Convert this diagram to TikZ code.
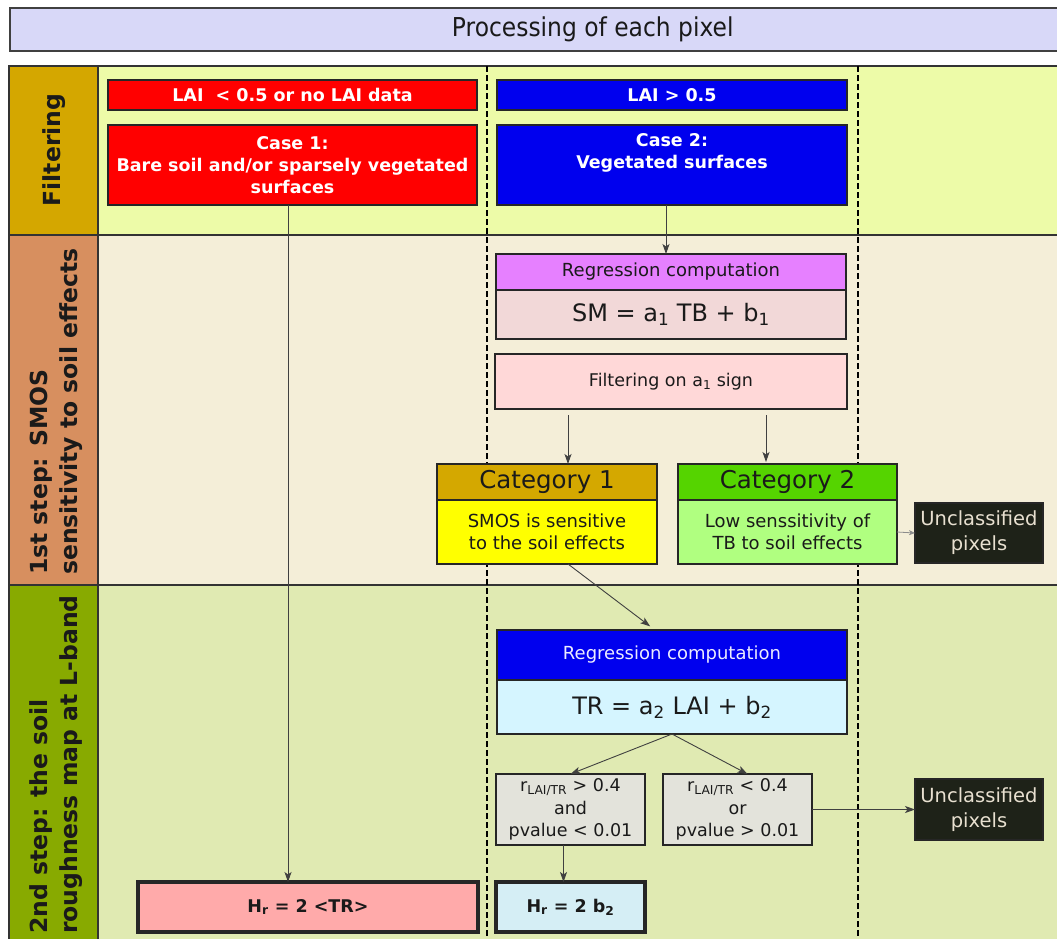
\documentclass[tikz,border=0pt]{standalone}
\usepackage{fontspec}
\setmainfont{DejaVu Sans}
\newfontfamily\condfont{DejaVu Sans}[FakeStretch=0.9]
\usetikzlibrary{arrows.meta}
\definecolor{hdrbg}{HTML}{D8D8F8}
\definecolor{rowAbg}{HTML}{EDFBA8}
\definecolor{rowAlab}{HTML}{D4A700}
\definecolor{rowBbg}{HTML}{F4EED8}
\definecolor{rowBlab}{HTML}{D78F5F}
\definecolor{rowCbg}{HTML}{E0EAB2}
\definecolor{rowClab}{HTML}{88AA00}
\definecolor{cred}{HTML}{FF0000}
\definecolor{cblue}{HTML}{0000EE}
\definecolor{violet}{HTML}{E680FF}
\definecolor{smbody}{HTML}{F2D8D8}
\definecolor{filtbg}{HTML}{FFD8D8}
\definecolor{catAh}{HTML}{D4A800}
\definecolor{catAb}{HTML}{FFFF00}
\definecolor{catBh}{HTML}{55D400}
\definecolor{catBb}{HTML}{B0FF80}
\definecolor{uncbg}{HTML}{1E2218}
\definecolor{unctx}{HTML}{E8E0D0}
\definecolor{trbody}{HTML}{D5F5FF}
\definecolor{greybox}{HTML}{E3E3DB}
\definecolor{hrA}{HTML}{FFAAAA}
\definecolor{hrB}{HTML}{D5EEF5}
\definecolor{ink}{HTML}{1A1A1A}
\tikzset{
  lane/.style={draw=black!80, line width=1.3pt},
  vdash/.style={draw=black, line width=1.3pt, dash pattern=on 6pt off 3pt},
  box/.style={draw=black!85, line width=1.8pt, anchor=north west, inner sep=0pt,
              outer sep=0pt, align=center, text=ink,
              font=\fontsize{18}{22}\selectfont},
  whitebold/.style={text=white, font=\bfseries\fontsize{17.5}{22}\selectfont},
  bigtxt/.style={font=\fontsize{24}{28}\selectfont},
  thickbox/.style={line width=4pt, font=\bfseries\fontsize{17.5}{22}\selectfont},
  unc/.style={fill=uncbg, text=unctx, font=\fontsize{19.5}{25}\selectfont},
  lab/.style={text=ink, font=\bfseries\fontsize{23.5}{30}\selectfont, inner sep=0pt},
  arr/.style={-{Stealth[length=10pt,width=7pt,inset=2.5pt]}, draw=black!75, line width=0.9pt},
  arrsmall/.style={-{Stealth[length=6pt,width=5pt,inset=1.5pt]}, draw=black!45, line width=0.8pt},
}
\begin{document}
\begin{tikzpicture}[x=1pt,y=-1pt]
\useasboundingbox (0,0) rectangle (1057,938);
\clip (0,0) rectangle (1057,938);
\fill[white] (0,0) rectangle (1057,938);

% header
\node[draw=black!75, line width=1.5pt, fill=hdrbg, anchor=north west, inner sep=0pt,
      minimum width=1166pt, minimum height=43pt, text=ink,
      font=\condfont\fontsize{26}{30}\selectfont] (head) at (9,7) {Processing of each pixel};

% lanes
\filldraw[lane, fill=rowAbg] (9,66) rectangle (1075,235);
\filldraw[lane, fill=rowAlab] (9,66) rectangle (98,235);
\filldraw[lane, fill=rowBbg] (9,235) rectangle (1075,585);
\filldraw[lane, fill=rowBlab] (9,235) rectangle (98,585);
\filldraw[lane, fill=rowCbg] (9,585) rectangle (1075,950);
\filldraw[lane, fill=rowClab] (9,585) rectangle (98,950);

\node[lab, rotate=90] (labF) at (54,150) {Filtering};
\node[lab, rotate=90, anchor=west, align=left] (labS) at (56,575) {1st step: SMOS\\sensitivity to soil effects};
\node[lab, rotate=90, anchor=west, align=left] (labR) at (56,934) {2nd step: the soil\\roughness map at L-band};

% dashed separators
\draw[vdash] (487,66) -- (487,938);
\draw[vdash] (858,66) -- (858,938);

% filtering row
\node[box, whitebold, fill=cred, minimum width=369pt, minimum height=30pt] (lai1) at (108,80) {LAI~ < 0.5 or no LAI data};
\node[box, whitebold, fill=cblue, minimum width=350pt, minimum height=30pt] (lai2) at (497,80) {LAI > 0.5};
\node[box, whitebold, fill=cred, minimum width=369pt, minimum height=80pt] (case1) at (108,125) {Case 1:\\Bare soil and/or sparsely vegetated\\surfaces};
\node[box, whitebold, fill=cblue, minimum width=350pt, minimum height=80pt] (case2) at (497,125) {Case 2:\\Vegetated surfaces\\\strut};

% first step
\node[box, fill=violet, minimum width=350pt, minimum height=36pt] (regh) at (496,254) {Regression computation};
\node[box, bigtxt, fill=smbody, minimum width=350pt, minimum height=49pt] (regb) at (496,290) {SM = a\textsubscript{1} TB + b\textsubscript{1}};
\node[box, fill=filtbg, minimum width=352pt, minimum height=55pt, font=\fontsize{17.5}{22}\selectfont] (filt) at (495,354) {Filtering on a\textsubscript{1} sign};

\node[box, fill=catAh, minimum width=220pt, minimum height=36pt, font=\fontsize{24.5}{28}\selectfont] (cat1h) at (437,464) {Category 1};
\node[box, fill=catAb, minimum width=220pt, minimum height=64pt] (cat1b) at (437,500) {SMOS is sensitive\\to the soil effects};
\node[box, fill=catBh, minimum width=219pt, minimum height=36pt, font=\fontsize{24.5}{28}\selectfont] (cat2h) at (678,464) {Category 2};
\node[box, fill=catBb, minimum width=219pt, minimum height=64pt] (cat2b) at (678,500) {Low senssitivity of\\TB to soil effects};
\node[box, unc, minimum width=128pt, minimum height=60pt] (unc1) at (915,503) {Unclassified\\pixels};

% second step
\node[box, fill=cblue, text=white!92!blue, minimum width=350pt, minimum height=50pt] (reg2h) at (497,630) {Regression computation};
\node[box, bigtxt, fill=trbody, minimum width=350pt, minimum height=54pt] (reg2b) at (497,680) {TR = a\textsubscript{2} LAI + b\textsubscript{2}};
\node[box, fill=greybox, minimum width=149pt, minimum height=71pt, font=\fontsize{17.5}{22.5}\selectfont] (r1) at (496,774) {r\textsubscript{LAI/TR} > 0.4\\and\\pvalue < 0.01};
\node[box, fill=greybox, minimum width=149pt, minimum height=71pt, font=\fontsize{17.5}{22.5}\selectfont] (r2) at (663,774) {r\textsubscript{LAI/TR} < 0.4\\or\\pvalue > 0.01};
\node[box, unc, minimum width=128pt, minimum height=61pt] (unc2) at (915,779) {Unclassified\\pixels};

\node[box, thickbox, fill=hrA, minimum width=340pt, minimum height=50pt] (hr1) at (138,882) {H\textsubscript{r} = 2 <TR>};
\node[box, thickbox, fill=hrB, minimum width=149pt, minimum height=50pt] (hr2) at (496,882) {H\textsubscript{r} = 2 b\textsubscript{2}};

% connectors
\draw[arr] ([xshift=-4.5pt]case1.south) -- ([xshift=-4.5pt]case1.south |- hr1.north);
\draw[arr] ([xshift=-6pt]case2.south) -- ([xshift=-6pt]case2.south |- regh.north);
\draw[arr, shorten <=6pt] ([xshift=-103pt]filt.south) -- ([xshift=-103pt]filt.south |- cat1h.north);
\draw[arr, shorten <=6pt, shorten >=2pt] ([xshift=95pt]filt.south) -- ([xshift=95pt]filt.south |- cat2h.north);
\draw[arrsmall] (cat2b.east) -- (unc1.west);
\draw[arr, shorten >=6pt] ([xshift=21pt]cat1b.south) -- ([xshift=-17pt]reg2h.north);
\draw[arr] (reg2b.south) -- (r1.north);
\draw[arr] (reg2b.south) -- ([xshift=10pt]r2.north);
\draw[arr] (r2.east) -- (unc2.west);
\draw[arr] ([xshift=-7pt]r1.south) -- ([xshift=-7pt]r1.south |- hr2.north);
\end{tikzpicture}
\end{document}
